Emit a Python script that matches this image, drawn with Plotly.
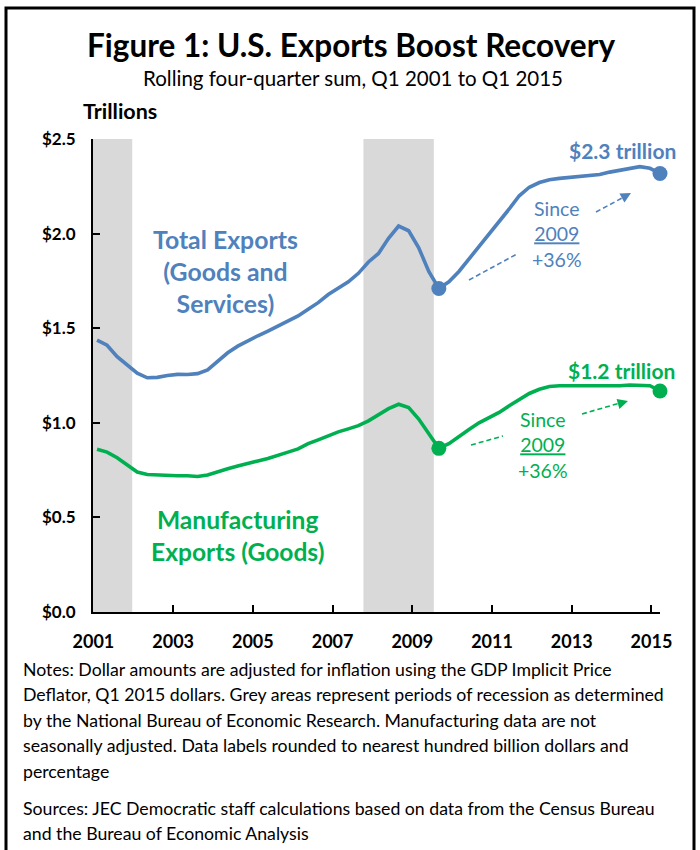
import plotly.graph_objects as go

# ---------------- data ----------------
quarters = [f"{y}Q{q}" for y in range(2001, 2016) for q in range(1, 5)][:57]

total_exports = [1.437, 1.41, 1.35, 1.303, 1.262, 1.238, 1.24, 1.25, 1.256, 1.255,
                 1.26, 1.28, 1.325, 1.37, 1.405, 1.435, 1.46, 1.485, 1.51, 1.535,
                 1.565, 1.60, 1.635, 1.678, 1.712, 1.745, 1.79, 1.85, 1.895, 1.975,
                 2.04, 2.015, 1.925, 1.80, 1.71, 1.745, 1.80, 1.865, 1.935, 1.995,
                 2.065, 2.13, 2.20, 2.245, 2.27, 2.285, 2.292, 2.298, 2.302, 2.307,
                 2.312, 2.325, 2.335, 2.348, 2.354, 2.345, 2.318]

manufacturing = [0.86, 0.845, 0.815, 0.775, 0.74, 0.727, 0.724, 0.72, 0.72, 0.72,
                 0.716, 0.724, 0.742, 0.757, 0.772, 0.787, 0.798, 0.811, 0.826, 0.845,
                 0.862, 0.89, 0.91, 0.932, 0.952, 0.968, 0.985, 1.01, 1.04, 1.075,
                 1.098, 1.08, 1.02, 0.94, 0.865, 0.89, 0.93, 0.965, 1.0, 1.025,
                 1.055, 1.09, 1.125, 1.155, 1.177, 1.192, 1.196, 1.196, 1.195, 1.195,
                 1.196, 1.198, 1.196, 1.2, 1.2, 1.196, 1.168]

tick_years = ["2001", "2003", "2005", "2007", "2009", "2011", "2013", "2015"]
recessions = [("2001Q1", "2001Q4"), ("2007Q4", "2009Q2")]
highlight = ["2009Q3", "2015Q1"]

# ---------------- style ----------------
BLUE = "#4F81BD"
GREEN = "#00B050"
GREY = "#D9D9D9"
FONT = "Lato"

W, H = 700, 850
L, R, T, B = 93, 40, 139, 238
PW, PH = W - L - R, H - T - B


def px(x):
    return (x - L) / PW


def py(y):
    return (H - B - y) / PH


idx = {q: i for i, q in enumerate(quarters)}
xs = list(range(len(quarters)))
hi_idx = [idx[q] for q in highlight]

fig = go.Figure()

for vals, col in [(total_exports, BLUE), (manufacturing, GREEN)]:
    fig.add_trace(go.Scatter(x=xs, y=vals, mode="lines",
                             line=dict(color=col, width=3.6),
                             cliponaxis=False, hoverinfo="skip"))
    fig.add_trace(go.Scatter(x=hi_idx, y=[vals[i] for i in hi_idx], mode="markers",
                             marker=dict(color=col, size=15),
                             cliponaxis=False, hoverinfo="skip"))

shapes = []
for a, b in recessions:
    shapes.append(dict(type="rect", xref="x", yref="y", x0=max(idx[a] - 0.5, -0.4),
                       x1=idx[b] + 0.5, y0=0, y1=2.5, fillcolor=GREY,
                       line=dict(width=0), layer="below"))

# outer frame
shapes.append(dict(type="rect", xref="paper", yref="paper",
                   x0=px(6), x1=px(694), y0=py(856), y1=py(8),
                   line=dict(color="black", width=3), fillcolor="rgba(0,0,0,0)"))


def dashed(x0, y0, x1, y1, col):
    shapes.append(dict(type="line", xref="paper", yref="paper",
                       x0=px(x0), y0=py(y0), x1=px(x1), y1=py(y1),
                       line=dict(color=col, width=1.6, dash="5px,3px")))


dashed(469, 280, 517, 254, BLUE)
dashed(596, 212, 624, 197, BLUE)
dashed(471, 445, 503, 436, GREEN)
dashed(582, 414, 620, 403, GREEN)

ann = []


def text(x, y, s, size, col="black", bold=False, xanchor="center"):
    ann.append(dict(x=px(x), y=py(y), xref="paper", yref="paper", text=s,
                    showarrow=False, xanchor=xanchor, yanchor="middle",
                    align="center" if xanchor == "center" else "left",
                    font=dict(family=FONT, size=size, color=col,
                              weight="bold" if bold else "normal")))


def head(x, y, ax, ay, col):
    ann.append(dict(x=px(x), y=py(y), xref="paper", yref="paper", text="",
                    showarrow=True, ax=ax, ay=ay, arrowhead=2, arrowsize=1.3,
                    arrowwidth=1.6, arrowcolor=col))


head(631, 193, -9, 5, BLUE)
head(628, 401, -9, 2.6, GREEN)

text(351, 45, "Figure 1: U.S. Exports Boost Recovery", 31.5, bold=True)
text(353, 78, "Rolling four-quarter sum, Q1 2001 to Q1 2015", 20.5)
text(81, 111, "Trillions", 21.5, bold=True, xanchor="left")

text(225, 271, "Total Exports<br>(Goods and<br>Services)", 24.8, BLUE, bold=True)
text(237, 535, "Manufacturing<br>Exports (Goods)", 24.6, GREEN, bold=True)
text(622, 151, "$2.3 trillion", 21, BLUE, bold=True)
text(621, 370, "$1.2 trillion", 21, GREEN, bold=True)

text(557, 234, "Since<br><u>2009</u><br>+36%", 19.5, BLUE)
text(543, 445, "Since<br><u>2009</u><br>+36%", 19.5, GREEN)

notes = [
    "Notes: Dollar amounts are adjusted for inflation using the GDP Implicit Price",
    "Deflator, Q1 2015 dollars. Grey areas represent periods of recession as determined",
    "by the National Bureau of Economic Research. Manufacturing data are not",
    "seasonally adjusted. Data labels rounded to nearest hundred billion dollars and",
    "percentage",
]
sources = [
    "Sources: JEC Democratic staff calculations based on data from the Census Bureau",
    "and the Bureau of Economic Analysis",
]
for k, line in enumerate(notes):
    text(21, 669 + 25.6 * k, line, 17.7, xanchor="left")
for k, line in enumerate(sources):
    text(21, 808 + 25.6 * k, line, 17.7, xanchor="left")

tickvals = [-0.36 + 7.93 * k for k in range(len(tick_years))]

fig.update_layout(
    width=W, height=H,
    margin=dict(l=L, r=R, t=T, b=B, pad=0),
    paper_bgcolor="white", plot_bgcolor="white",
    showlegend=False,
    shapes=shapes, annotations=ann,
    font=dict(family=FONT, color="black"),
    xaxis=dict(range=[-0.4, 56.0], tickvals=tickvals, ticktext=tick_years,
               showgrid=False, zeroline=False, showline=True, linecolor="black",
               linewidth=2, ticks="inside", ticklen=7, tickwidth=2, tickcolor="black",
               tickfont=dict(family=FONT, size=18, color="black", weight="bold"),
               ticklabelstandoff=12),
    yaxis=dict(range=[0, 2.5], dtick=0.5, tickformat="$.1f",
               showgrid=False, zeroline=False, showline=True, linecolor="black",
               linewidth=2, ticks="inside", ticklen=7, tickwidth=2, tickcolor="black",
               tickfont=dict(family=FONT, size=17, color="black", weight="bold"),
               ticklabelstandoff=12),
)

fig.write_html("out.html", config={"displayModeBar": False},
               post_script="document.body.style.margin='0';")
